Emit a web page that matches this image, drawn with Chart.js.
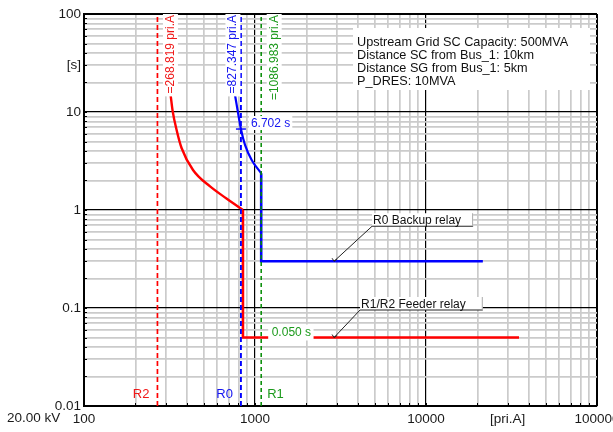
<!DOCTYPE html>
<html>
<head>
<meta charset="utf-8">
<script src="https://cdn.jsdelivr.net/npm/chart.js@4/dist/chart.umd.min.js"></script>
<style>
  html, body { margin: 0; padding: 0; background: #fff; }
  #wrap { width: 613px; height: 432px; }
</style>
</head>
<body>
<div id="wrap"><canvas id="tcc" width="613" height="432"></canvas></div>
<script>
// Time-current coordination of the 20 kV feeder protection (log-log)
const xTickValues = [100, 1000, 10000, 100000];
const xTickLabels = ['100', '1000', '10000', '100000'];
const yTickValues = [0.01, 0.1, 1, 10, 100];
const yTickLabels = ['0.01', '0.1', '1', '10', '100'];
const xUnitAt = 30000, xUnitLabel = '[pri.A]';
const yUnitAt = 30, yUnitLabel = '[s]';
const voltageLabel = '20.00 kV';

// Pickup currents of the three relays [pri.A]
const relayNames = ['R2', 'R0', 'R1'];
const pickupCurrents = [268.819, 827.347, 1086.983];

// R1/R2 feeder relay: inverse-time part, then definite-time stage
const feederCurveI = [321, 330, 348, 372, 434, 546, 681, 746, 850];
const feederCurveT = [14.9, 10.2, 6.55, 4.29, 2.56, 1.74, 1.31, 1.17, 1.0];
const feederStepI = [850, 850, 35000];
const feederStepT = [1.0, 0.050, 0.050];

// R0 backup relay: inverse-time part, then definite-time stage
const backupCurveI = [764, 806, 827.347, 874, 956, 1087];
const backupCurveT = [14.9, 8.63, 6.702, 4.61, 3.24, 2.37];
const backupStepI = [1087, 1087, 21500];
const backupStepT = [2.37, 0.30, 0.30];

// Operating time read at the R0 pickup current
const markerI = [827.347];
const markerT = [6.702];

// Where the two leader labels point to on the curves
const leaderI = [2900, 2900];
const leaderT = [0.30, 0.050];
const leaderText = ['R0 Backup relay', 'R1/R2 Feeder relay'];

const infoLines = [
  'Upstream Grid SC Capacity: 500MVA',
  'Distance SC from Bus_1: 10km',
  'Distance SG from Bus_1: 5km',
  'P_DRES: 10MVA'
];

// ---- styling ----
const RED = '#ff0000', BLUE = '#0000ff', GREEN = '#008a00', GREEN_TXT = '#1c9a1c';
const FONT = '"Liberation Sans", Arial, sans-serif';
const pickupStyle = [
  { color: RED,   text: '#f01818', labelDx: 13, nameDx: -8, nameAlign: 'right', dash: [5, 3], width: 1.7 },
  { color: BLUE,  text: '#1414f0', labelDx: -8, nameDx: -8, nameAlign: 'right', dash: [5, 3], width: 1.9 },
  { color: GREEN, text: GREEN_TXT, labelDx: 13, nameDx: 6,  nameAlign: 'left',  dash: [4, 3], width: 1.5 }
];
const leaderStyle = [
  { dx: 38, dy: -35, pad: 13 },
  { dx: 26, dy: -27.5, pad: 18 }
];

const pts = (xs, ys) => xs.map((v, i) => ({ x: v, y: ys[i] }));
const near = (a, b) => Math.abs(Math.log10(a) - Math.log10(b)) < 1e-6;

function decadeGrid(lo, hi) {
  const out = [];
  for (let e = Math.round(Math.log10(lo)); e < Math.round(Math.log10(hi)); e++) {
    for (let k = 1; k <= 9; k++) out.push(Number((k * Math.pow(10, e)).toPrecision(6)));
  }
  out.push(hi);
  return out;
}

function isMajor(v) { return Math.abs(Math.log10(v) - Math.round(Math.log10(v))) < 1e-9; }

const datasets = [];
// pickup reference lines
pickupCurrents.forEach((I, k) => {
  datasets.push({
    data: pts([I, I], [0.01, 100]),
    borderColor: pickupStyle[k].color, borderWidth: pickupStyle[k].width,
    borderDash: pickupStyle[k].dash, pointRadius: 0, showLine: true, tension: 0
  });
});
datasets.push(
  { data: pts(feederCurveI, feederCurveT), borderColor: RED, borderWidth: 2.4, pointRadius: 0, showLine: true, cubicInterpolationMode: 'monotone' },
  { data: pts(feederStepI, feederStepT), borderColor: RED, borderWidth: 2.6, pointRadius: 0, showLine: true, tension: 0 },
  { data: pts(backupCurveI, backupCurveT), borderColor: BLUE, borderWidth: 2.2, pointRadius: 0, showLine: true, cubicInterpolationMode: 'monotone' },
  { data: pts(backupStepI, backupStepT), borderColor: BLUE, borderWidth: 2.6, pointRadius: 0, showLine: true, tension: 0 },
  { data: pts(markerI, markerT), borderColor: BLUE, backgroundColor: BLUE, pointStyle: 'line', pointRadius: 5, borderWidth: 1.4, showLine: false }
);

function gridColor(c) { return isMajor(c.tick.value) ? '#000' : '#cbcbcb'; }

const overlay = {
  id: 'overlay',
  afterDatasetsDraw(chart) {
    const { ctx, chartArea: a, scales: { x, y } } = chart;
    ctx.save();

    // short inside ticks along left and bottom axes
    ctx.strokeStyle = '#000'; ctx.lineWidth = 1;
    decadeGrid(0.01, 100).forEach(v => {
      const py = Math.round(y.getPixelForValue(v)) + 0.5;
      ctx.beginPath(); ctx.moveTo(a.left, py); ctx.lineTo(a.left + 3, py); ctx.stroke();
    });
    decadeGrid(100, 100000).forEach(v => {
      const px = Math.round(x.getPixelForValue(v)) + 0.5;
      ctx.beginPath(); ctx.moveTo(px, a.bottom); ctx.lineTo(px, a.bottom - 3); ctx.stroke();
    });

    // pickup current labels (vertical) and relay names at the bottom
    pickupCurrents.forEach((I, k) => {
      const st = pickupStyle[k];
      const px = x.getPixelForValue(I);
      const txt = '=' + I.toFixed(3) + ' pri.A';
      ctx.save();
      ctx.translate(px + st.labelDx, a.top + 1);
      ctx.rotate(-Math.PI / 2);
      ctx.font = '12px ' + FONT;
      const w = ctx.measureText(txt).width;
      ctx.fillStyle = '#fff';
      ctx.fillRect(-w - 3, -7.5, w + 4, 15);
      ctx.fillStyle = st.text;
      ctx.textAlign = 'right'; ctx.textBaseline = 'middle';
      ctx.fillText(txt, 0, 0);
      ctx.restore();

      ctx.font = '13px ' + FONT;
      ctx.fillStyle = st.text;
      ctx.textAlign = st.nameAlign; ctx.textBaseline = 'middle';
      ctx.fillText(relayNames[k], px + st.nameDx, 394);
    });

    // operating time at R0 pickup
    {
      const px = x.getPixelForValue(markerI[0]);
      const py = y.getPixelForValue(markerT[0]);
      const txt = markerT[0].toFixed(3) + ' s';
      ctx.font = '12px ' + FONT;
      const w = ctx.measureText(txt).width;
      ctx.fillStyle = '#fff';
      ctx.fillRect(px + 8, py - 13, w + 4, 14);
      ctx.fillStyle = '#1414f0';
      ctx.textAlign = 'left'; ctx.textBaseline = 'middle';
      ctx.fillText(txt, px + 10, py - 5.5);
    }

    // definite-time stage of the feeder relay
    {
      const px = x.getPixelForValue(pickupCurrents[2]);
      const py = y.getPixelForValue(feederStepT[2]);
      const txt = feederStepT[2].toFixed(3) + ' s';
      ctx.font = '12px ' + FONT;
      const w = ctx.measureText(txt).width;
      ctx.fillStyle = '#fff';
      ctx.fillRect(px + 7, py - 13, w + 6, 16);
      ctx.fillStyle = GREEN_TXT;
      ctx.textAlign = 'left'; ctx.textBaseline = 'middle';
      ctx.fillText(txt, px + 10.5, py - 4.8);
    }

    // leader labels
    leaderText.forEach((txt, k) => {
      const st = leaderStyle[k];
      const ax = x.getPixelForValue(leaderI[k]);
      const ay = y.getPixelForValue(leaderT[k]);
      const bx = ax + st.dx, by = ay + st.dy;
      ctx.font = '12px ' + FONT;
      const w = ctx.measureText(txt).width;
      ctx.fillStyle = '#fff';
      ctx.fillRect(bx, by - 13, w + st.pad, 13);
      ctx.strokeStyle = '#222'; ctx.lineWidth = 1;
      ctx.beginPath();
      ctx.moveTo(ax, ay); ctx.lineTo(bx, by); ctx.lineTo(bx + w + st.pad, by);
      ctx.stroke();
      ctx.strokeStyle = '#aaa';
      ctx.beginPath(); ctx.moveTo(bx + w + st.pad - 0.5, by - 13); ctx.lineTo(bx + w + st.pad - 0.5, by); ctx.stroke();
      // small arrow head at the curve
      ctx.strokeStyle = '#222';
      ctx.beginPath();
      ctx.moveTo(ax - 2, ay - 3); ctx.lineTo(ax, ay); ctx.lineTo(ax + 3, ay - 2);
      ctx.stroke();
      ctx.fillStyle = '#111';
      ctx.textAlign = 'left'; ctx.textBaseline = 'alphabetic';
      ctx.fillText(txt, bx + 1, by - 2);
    });

    // study case information
    ctx.fillStyle = '#fff';
    ctx.fillRect(353, 28, 237, 62);
    ctx.font = '12.7px ' + FONT;
    ctx.fillStyle = '#111';
    ctx.textAlign = 'left'; ctx.textBaseline = 'middle';
    infoLines.forEach((line, i) => ctx.fillText(line, 357, 42.5 + 13 * i));

    // system voltage
    ctx.font = '13.5px ' + FONT;
    ctx.fillStyle = '#1a1a1a';
    ctx.textAlign = 'left'; ctx.textBaseline = 'middle';
    ctx.fillText(voltageLabel, 7, 418);

    ctx.restore();
  }
};

new Chart(document.getElementById('tcc'), {
  type: 'scatter',
  data: { datasets },
  options: {
    responsive: false,
    animation: false,
    devicePixelRatio: 1,
    layout: { padding: { top: 14, right: 16, bottom: 0, left: 0 } },
    plugins: { legend: { display: false }, tooltip: { enabled: false } },
    scales: {
      x: {
        type: 'logarithmic', position: 'bottom', min: 100, max: 100000,
        afterBuildTicks: s => { s.ticks = decadeGrid(100, 100000).map(v => ({ value: v })); },
        afterFit: s => { s.height = 26; s.paddingLeft = 0; s.paddingRight = 0; },
        grid: {
          color: gridColor, drawTicks: false,
          lineWidth: c => isMajor(c.tick.value) ? (c.tick.value === 100000 ? 2 : 1.2) : 1.7
        },
        border: { display: true, color: '#000', width: 2 },
        ticks: {
          autoSkip: false, maxRotation: 0, padding: 5, color: '#1a1a1a',
          font: { family: FONT, size: 13.5 },
          callback: v => {
            const i = xTickValues.findIndex(t => near(t, v));
            if (i >= 0) return xTickLabels[i];
            return near(v, xUnitAt) ? xUnitLabel : '';
          }
        }
      },
      y: {
        type: 'logarithmic', position: 'left', min: 0.01, max: 100,
        afterBuildTicks: s => { s.ticks = decadeGrid(0.01, 100).map(v => ({ value: v })); },
        afterFit: s => { s.width = 84; s.paddingTop = 0; s.paddingBottom = 0; },
        grid: {
          color: gridColor, drawTicks: false,
          lineWidth: c => isMajor(c.tick.value) ? (c.tick.value === 100 ? 2 : 1.2) : 1.7
        },
        border: { display: true, color: '#000', width: 2 },
        ticks: {
          autoSkip: false, padding: 3, color: '#1a1a1a',
          font: { family: FONT, size: 13.5 },
          callback: v => {
            const i = yTickValues.findIndex(t => near(t, v));
            if (i >= 0) return yTickLabels[i];
            return near(v, yUnitAt) ? yUnitLabel : '';
          }
        }
      }
    }
  },
  plugins: [overlay]
});
</script>
</body>
</html>
